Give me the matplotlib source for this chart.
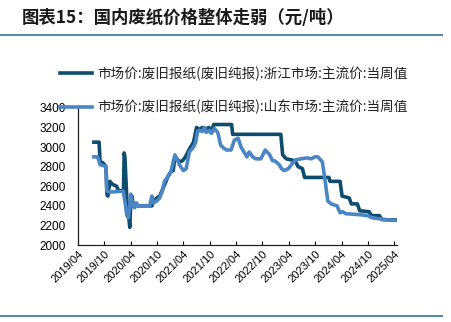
import matplotlib
matplotlib.use('Agg')
import matplotlib.pyplot as plt
import pandas as pd

plt.rcParams['font.family'] = ['Noto Sans CJK SC', 'DejaVu Sans']

# data (yuan/ton)
zj_dates = ['2019-07-20', '2019-08-25', '2019-09-01', '2019-09-20', '2019-10-12', '2019-10-18',
            '2019-10-25', '2019-11-08', '2019-11-25', '2019-12-25', '2020-01-05', '2020-02-10',
            '2020-02-15', '2020-02-20', '2020-03-05', '2020-03-20', '2020-03-25', '2020-04-01',
            '2020-04-08', '2020-04-20', '2020-05-01', '2020-05-15', '2020-08-25', '2020-09-05',
            '2020-09-28', '2020-10-18', '2020-11-05', '2020-12-01', '2020-12-15', '2021-01-05',
            '2021-01-20', '2021-02-01', '2021-02-15', '2021-03-05', '2021-03-25', '2021-04-15',
            '2021-05-12', '2021-06-10', '2021-07-01', '2021-07-20', '2021-08-10', '2021-08-30',
            '2021-09-25', '2021-10-08', '2021-10-28', '2022-03-01', '2022-03-08', '2022-03-28',
            '2023-02-05', '2023-02-18', '2023-03-15', '2023-05-15', '2023-06-05', '2023-07-05',
            '2023-07-20', '2024-01-05', '2024-01-12', '2024-03-22', '2024-04-05', '2024-05-25',
            '2024-06-08', '2024-07-20', '2024-08-05', '2024-10-10', '2024-10-25', '2024-12-20',
            '2025-01-05', '2025-04-20']
zj_values = [3050, 3050, 2850, 2840, 2800, 2520,
             2500, 2650, 2620, 2600, 2560, 2550,
             2940, 2900, 2450, 2250, 2180, 2450,
             2500, 2400, 2420, 2400, 2400, 2450,
             2480, 2500, 2560, 2650, 2700, 2750,
             2760, 2900, 2880, 2850, 2860, 2900,
             2980, 3050, 3200, 3180, 3200, 3180,
             3200, 3150, 3230, 3230, 3130, 3130,
             3130, 2920, 2880, 2860, 2800, 2780,
             2690, 2690, 2650, 2650, 2500, 2480,
             2420, 2420, 2350, 2340, 2300, 2300,
             2260, 2255]

sd_dates = ['2019-07-20', '2019-08-15', '2019-09-01', '2019-09-25', '2019-10-12', '2019-10-18',
            '2019-11-08', '2020-02-08', '2020-02-20', '2020-03-05', '2020-03-15', '2020-03-25',
            '2020-04-01', '2020-04-15', '2020-04-28', '2020-05-10', '2020-05-22', '2020-08-10',
            '2020-08-25', '2020-09-05', '2020-09-28', '2020-10-18', '2020-11-05', '2020-11-20',
            '2020-12-15', '2021-01-05', '2021-01-20', '2021-02-01', '2021-02-20', '2021-03-12',
            '2021-04-01', '2021-04-20', '2021-05-12', '2021-06-10', '2021-06-25', '2021-07-08',
            '2021-07-20', '2021-08-10', '2021-08-25', '2021-09-05', '2021-09-30', '2021-10-12',
            '2021-11-01', '2021-11-25', '2021-12-15', '2022-01-05', '2022-01-25', '2022-02-25',
            '2022-03-20', '2022-04-15', '2022-05-05', '2022-06-15', '2022-07-01', '2022-07-25',
            '2022-08-15', '2022-09-20', '2022-10-20', '2022-11-20', '2022-12-10', '2022-12-25',
            '2023-01-25', '2023-02-10', '2023-03-01', '2023-03-30', '2023-04-25', '2023-05-20',
            '2023-06-25', '2023-08-05', '2023-09-05', '2023-10-01', '2023-10-20', '2023-11-20',
            '2023-12-10', '2023-12-28', '2024-01-20', '2024-03-01', '2024-03-22', '2024-04-10',
            '2024-05-01', '2024-08-05', '2024-10-01', '2024-10-25', '2025-01-25', '2025-04-20']
sd_values = [2900, 2900, 2820, 2810, 2800, 2550,
             2540, 2550, 2450, 2300, 2280, 2400,
             2520, 2400, 2380, 2430, 2400, 2400,
             2500, 2430, 2450, 2480, 2550, 2650,
             2700, 2750, 2850, 2920, 2860, 2800,
             2760, 2780, 2950, 3000, 3050, 3160,
             3170, 3160, 3200, 3150, 3170, 3140,
             3190, 3150, 3020, 2990, 2970, 2970,
             3070, 3090, 3000, 2900, 2950, 2900,
             2880, 2880, 2970, 2920, 2860, 2860,
             2820, 2780, 2760, 2780, 2830, 2870,
             2880, 2890, 2880, 2900, 2900, 2850,
             2650, 2450, 2420, 2400, 2330, 2340,
             2320, 2310, 2300, 2280, 2260, 2250]

labels = ['市场价:废旧报纸(废旧纯报):浙江市场:主流价:当周值',
          '市场价:废旧报纸(废旧纯报):山东市场:主流价:当周值']
tick_months = ['2019/04', '2019/10', '2020/04', '2020/10', '2021/04', '2021/10', '2022/04',
               '2022/10', '2023/04', '2023/10', '2024/04', '2024/10', '2025/04']

dark = '#0e4d6e'
light = '#4a86c5'

fig = plt.figure(figsize=(4.51, 3.22), dpi=100)
ax = fig.add_axes([0.173, 0.239, 0.707, 0.426])

ax.plot(pd.to_datetime(zj_dates), zj_values, color=dark, lw=2.6, label=labels[0])
ax.plot(pd.to_datetime(sd_dates), sd_values, color=light, lw=2.6, label=labels[1])

ticks = pd.to_datetime([t.replace('/', '-') + '-01' for t in tick_months])
ax.set_xlim(ticks[0], pd.Timestamp('2025-04-20'))
ax.set_ylim(2000, 3400)
ax.set_yticks(range(2000, 3401, 200))
ax.set_xticks(ticks)
ax.set_xticklabels(tick_months, rotation=45, ha='right', rotation_mode='anchor',
                   fontsize=8, family=['Liberation Sans', 'DejaVu Sans'])
for lab in ax.get_yticklabels():
    lab.set_fontsize(8.5)
    lab.set_family(['Liberation Sans', 'DejaVu Sans'])
ax.tick_params(axis='x', direction='in', length=3, width=0.8, pad=3)
ax.tick_params(axis='y', length=0, pad=9)
for s in ['top', 'right']:
    ax.spines[s].set_visible(False)
for s in ['left', 'bottom']:
    ax.spines[s].set_linewidth(0.9)
    ax.spines[s].set_color('#222222')

leg = fig.legend(loc='upper left', bbox_to_anchor=(0.105, 0.832), frameon=False,
                 fontsize=9.8, handlelength=2.4, handletextpad=0.4, labelspacing=1.4)
for t in leg.get_texts():
    t.set_color('#222222')

fig.text(22 / 451, 1 - 18 / 322, '图表15：国内废纸价格整体走弱（元/吨）', fontsize=12.5,
         fontweight='bold', va='center', ha='left', color='#1a1a1a')
fig.add_artist(plt.Line2D([0, 442 / 451], [1 - 35 / 322, 1 - 35 / 322], color='#5a8aa8', lw=1.5))
fig.add_artist(plt.Line2D([0, 442 / 451], [1 - 316 / 322, 1 - 316 / 322], color='#5a8aa8', lw=1.5))

fig.savefig('out.png', dpi=100)
